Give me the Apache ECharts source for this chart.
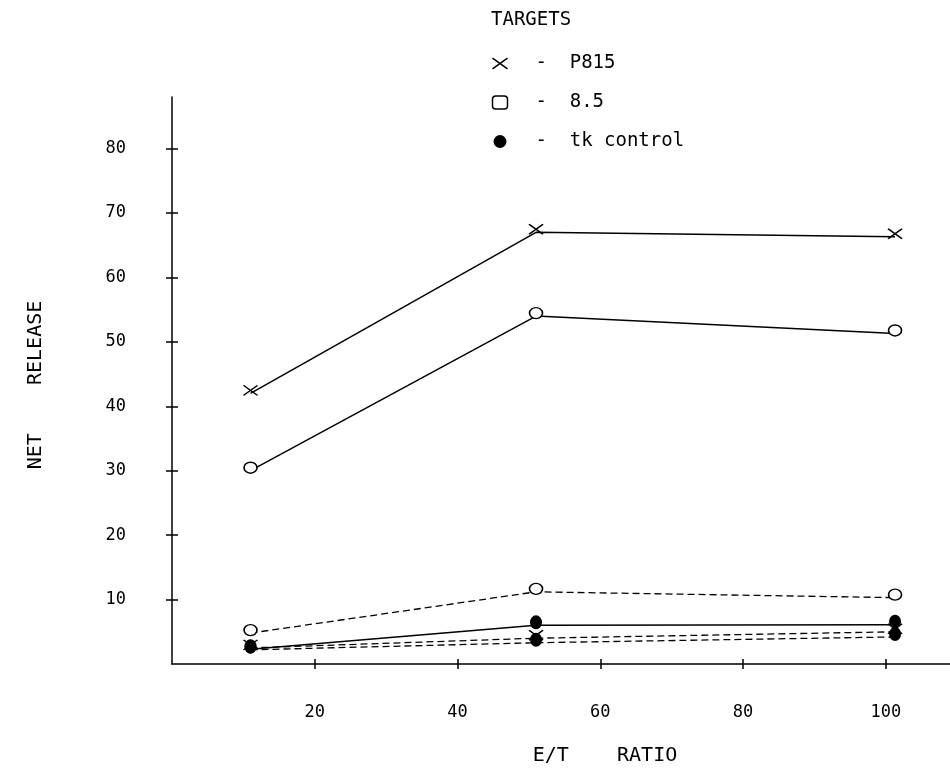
<!DOCTYPE html>
<html lang="en">
<head>
<meta charset="UTF-8">
<title>Net release vs E/T ratio</title>
</head>
<body style="margin:0;background:#fff">
<div id="main" style="width:950px;height:770px;"></div>
<script src="https://cdn.jsdelivr.net/npm/echarts@6/dist/echarts.min.js"></script>
<script>
// E/T ratio of each point (x)
var etRatio = [11, 51, 101.3];
// solid lines
var p815 = [42, 67, 66.3];
var t85 = [30, 54, 51.3];
var tkControl = [2.3, 6.0, 6.1];
// dashed lines
var p815Dashed = [2.5, 4.0, 5.0];
var t85Dashed = [4.8, 11.2, 10.3];
var tkDashed = [2.2, 3.3, 4.2];
// ticks
var xTicks = [20, 40, 60, 80, 100];
var yTicks = [10, 20, 30, 40, 50, 60, 70, 80];

var FONT = 'DejaVu Sans Mono';
var xMark = 'path://M0,0L14,10M14,0L0,10';

function pts(ys) {
  return etRatio.map(function (x, i) { return [x, ys[i]]; });
}

var chart = echarts.init(document.getElementById('main'));

var solid = { color: '#000', width: 1.5, type: 'solid' };
var dashed = { color: '#000', width: 1.3, type: [7, 4] };

function mk(name, ys, line, symbol, size, item) {
  return {
    name: name,
    type: 'line',
    data: pts(ys),
    symbol: symbol,
    symbolSize: size,
    symbolOffset: [0, -3],
    lineStyle: line,
    itemStyle: item,
    z: 3,
    emphasis: { disabled: true },
    animation: false
  };
}

var xStyle = { color: '#000', borderColor: '#000', borderWidth: 1.5 };
var oStyle = { color: '#fff', borderColor: '#000', borderWidth: 1.5 };
var fStyle = { color: '#000', borderColor: '#000', borderWidth: 0 };

var option = {
  backgroundColor: '#fff',
  title: {
    text: 'TARGETS',
    left: 486,
    top: 6,
    textStyle: { fontFamily: FONT, fontSize: 19, fontWeight: 'normal', color: '#000' }
  },
  legend: {
    orient: 'vertical',
    left: 485,
    top: 49,
    itemWidth: 15,
    itemHeight: 13,
    itemGap: 20,
    formatter: function (n) { return '  -  ' + n; },
    textStyle: { fontFamily: FONT, fontSize: 19, color: '#000' },
    data: [
      { name: 'P815', icon: xMark, itemStyle: { color: 'none', borderColor: '#000', borderWidth: 1.5 } },
      { name: '8.5', icon: 'roundRect', itemStyle: { color: '#fff', borderColor: '#000', borderWidth: 1.5 } },
      { name: 'tk control', icon: 'circle', itemStyle: { color: '#000', borderWidth: 0 } }
    ]
  },
  grid: { left: 172, right: 0, top: 97, bottom: 106 },
  xAxis: [{
    type: 'value',
    min: 0,
    max: 109,
    splitLine: { show: false },
    axisLine: { onZero: false, lineStyle: { color: '#000', width: 1.5 } },
    axisTick: { length: 5, customValues: xTicks, lineStyle: { color: '#000', width: 1.5 } },
    axisLabel: { customValues: xTicks, margin: 40, fontFamily: FONT, fontSize: 17, color: '#000' }
  }, {
    type: 'value',
    position: 'bottom',
    min: 0,
    max: 109,
    splitLine: { show: false },
    axisLine: { show: false },
    axisTick: { inside: true, length: 5, customValues: xTicks, lineStyle: { color: '#000', width: 1.5 } },
    axisLabel: { show: false }
  }],
  yAxis: [{
    type: 'value',
    min: 0,
    max: 88,
    splitLine: { show: false },
    axisLine: { show: true, onZero: false, lineStyle: { color: '#000', width: 1.5 } },
    axisTick: { show: true, length: 6, customValues: yTicks, lineStyle: { color: '#000', width: 1.5 } },
    axisLabel: { customValues: yTicks, margin: 46, fontFamily: FONT, fontSize: 17, color: '#000' }
  }, {
    type: 'value',
    position: 'left',
    min: 0,
    max: 88,
    splitLine: { show: false },
    axisLine: { show: false },
    axisTick: { show: true, inside: true, length: 6, customValues: yTicks, lineStyle: { color: '#000', width: 1.5 } },
    axisLabel: { show: false }
  }],
  graphic: [{
    type: 'text',
    x: 36,
    y: 385,
    rotation: Math.PI / 2,
    style: {
      text: 'NET    RELEASE',
      fontFamily: FONT,
      fontSize: 20,
      fill: '#000',
      align: 'center',
      verticalAlign: 'middle'
    }
  }, {
    type: 'text',
    x: 605,
    y: 756,
    style: {
      text: 'E/T    RATIO',
      fontFamily: FONT,
      fontSize: 20,
      fill: '#000',
      align: 'center',
      verticalAlign: 'middle'
    }
  }],
  series: [
    mk('P815', p815, solid, xMark, [14, 10], xStyle),
    mk('8.5', t85, solid, 'circle', [13, 11], oStyle),
    mk('tk control', tkControl, solid, 'circle', [12, 14], fStyle),
    mk('P815 dashed', p815Dashed, dashed, xMark, [14, 10], xStyle),
    mk('8.5 dashed', t85Dashed, dashed, 'circle', [13, 11], oStyle),
    mk('tk control dashed', tkDashed, dashed, 'circle', [12, 14], fStyle)
  ]
};

chart.setOption(option);
</script>
</body>
</html>
